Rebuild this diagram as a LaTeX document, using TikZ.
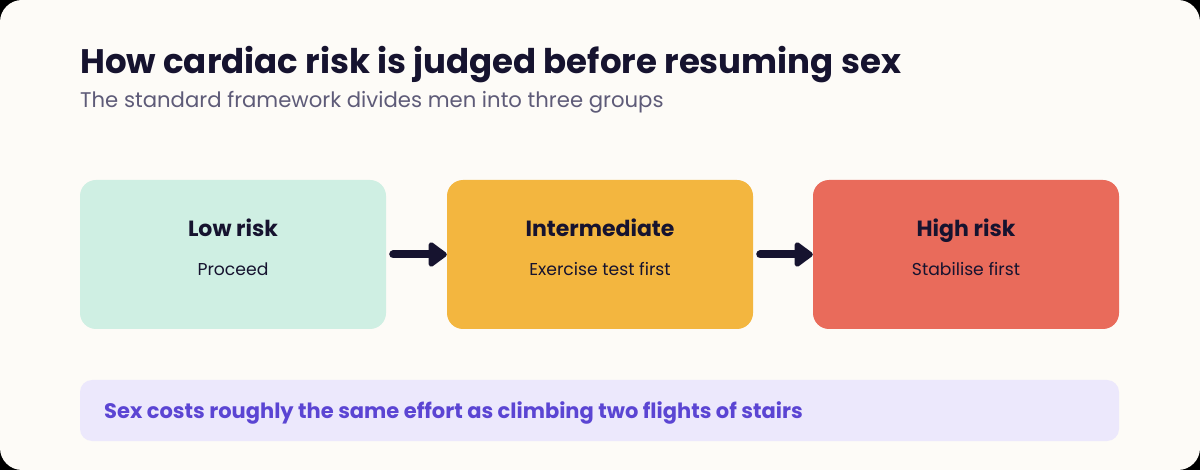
\documentclass[tikz,border=0pt]{standalone}
\usepackage{fontspec}
\setmainfont{Poppins}
\usetikzlibrary{arrows.meta}
\definecolor{paper}{HTML}{FDFBF7}
\definecolor{ink}{HTML}{16132F}
\definecolor{muted}{HTML}{5E5B78}
\definecolor{mint}{HTML}{CFEFE3}
\definecolor{amber}{HTML}{F3B63F}
\definecolor{coral}{HTML}{E96B5B}
\definecolor{lilac}{HTML}{ECE8FC}
\definecolor{violet}{HTML}{5B45D3}
\begin{document}
\begin{tikzpicture}[x=1pt,y=-1pt,
card/.style={minimum width=306pt,minimum height=149pt,rounded corners=16pt,inner sep=0pt},
head/.style={font=\fontsize{22}{26}\selectfont\bfseries,text=ink},
sub/.style={font=\fontsize{17.2}{21}\selectfont,text=ink},
flow/.style={ink,line width=8pt,line cap=round,-{Triangle[length=20pt,width=28pt,round=false]}}]
\fill(0,0)rectangle(1200,470);
\fill[paper,rounded corners=22pt](0,0)rectangle(1200,470);
\node[anchor=base west,inner sep=0pt,font=\fontsize{34}{40}\selectfont\bfseries,text=ink](title)at(80,74){How cardiac risk is judged before resuming sex};
\node[anchor=base west,inner sep=0pt,font=\fontsize{21.2}{25}\selectfont,text=muted](subtitle)at(80,108){The standard framework divides men into three groups};
\node[card,fill=mint](low)at(233,254.5){};
\node[card,fill=amber](mid)at(600,254.5){};
\node[card,fill=coral](high)at(966,254.5){};
\foreach \b/\h/\s in {low/Low risk/Proceed,mid/Intermediate/Exercise test first,high/High risk/Stabilise first}{
\node[head,anchor=base](\b-head)at([yshift=18pt]\b.center){\h};
\node[sub,anchor=base](\b-sub)at([yshift=-21pt]\b.center){\s};
}
\draw[flow,shorten <=7pt](low)--(mid);
\draw[flow,shorten <=7pt](mid)--(high);
\node[fill=lilac,rounded corners=12pt,minimum width=1039pt,minimum height=61pt,inner sep=0pt](note)at(599.5,410.5){};
\node[anchor=base west,inner sep=0pt,font=\fontsize{21}{25}\selectfont\bfseries,text=violet](note-text)at(104,418){Sex costs roughly the same effort as climbing two flights of stairs};
\end{tikzpicture}
\end{document}
